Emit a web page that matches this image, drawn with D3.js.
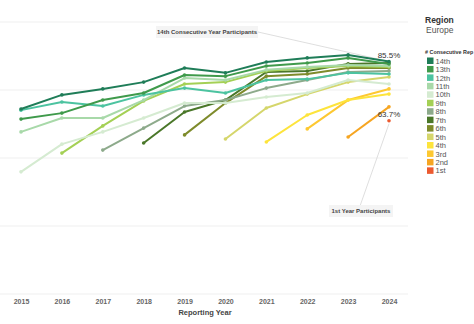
<!DOCTYPE html>
<html><head><meta charset="utf-8">
<script src="https://cdn.jsdelivr.net/npm/d3@7"></script>
<style>body{margin:0;background:#fff;}svg{display:block;font-family:Arial,"Liberation Sans",sans-serif;}</style>
</head><body>
<svg id="c" width="474" height="324"></svg>
<script>
const years = [2015,2016,2017,2018,2019,2020,2021,2022,2023,2024];
const yTicks = [0,25,50,75,100];
const seriesNames = ["14th","13th","12th","11th","10th","9th","8th","7th","6th","5th","4th","3rd","2nd","1st"];
const seriesColors = ["#1f7d58","#3f9a4b","#4cc3a0","#a8d9a9","#d5ebd1","#a4d055","#8daa8b","#4a7729","#7e8b2b","#d5d66b","#fde43c","#fdc831","#f6a521","#ec5a2f"];
const v14 = [68.0,73.2,75.4,77.9,83.1,81.3,85.3,86.8,87.9,85.5];
const v13 = [64.3,66.5,71.3,73.9,80.5,80.1,83.8,84.9,86.8,84.6];
const v12 = [67.6,70.6,69.1,73.2,75.7,73.9,78.7,79.0,81.3,80.9];
const v11 = [59.6,64.7,64.7,71.3,79.4,78.7,82.4,83.5,84.2,83.8];
const v10 = [44.9,55.1,59.6,64.7,70.2,70.2,72.4,73.9,78.7,77.2];
const v9  = [null,51.8,61.8,71.0,77.2,77.9,82.0,83.1,83.8,83.5];
const v8  = [null,null,52.9,61.0,69.1,71.3,75.7,78.7,81.6,82.0];
const v7  = [null,null,null,55.5,66.9,71.3,81.6,82.0,84.6,84.9];
const v6  = [null,null,null,null,58.5,70.2,80.1,80.9,83.1,83.1];
const v5  = [null,null,null,null,null,57.0,68.4,73.5,77.9,79.8];
const v4  = [null,null,null,null,null,null,55.9,65.8,71.3,73.5];
const v3  = [null,null,null,null,null,null,null,60.7,71.3,75.4];
const v2  = [null,null,null,null,null,null,null,null,57.7,68.8];
const v1  = [null,null,null,null,null,null,null,null,null,63.7];
const seriesValues = [v14,v13,v12,v11,v10,v9,v8,v7,v6,v5,v4,v3,v2,v1];

const svg = d3.select("#c");
const x = d3.scaleLinear().domain([2015,2024]).range([21,389]);
const y = d3.scaleLinear().domain([0,100]).range([294,22]);

// gridlines
svg.append("g").selectAll("line").data(yTicks).join("line")
  .attr("x1",0).attr("x2",408).attr("y1",d=>y(d)).attr("y2",d=>y(d))
  .attr("stroke","#efefef").attr("stroke-width",1);

// x axis
const xAxis = d3.axisBottom(x).tickValues(years).tickFormat(d3.format("d")).tickSize(0).tickPadding(0);
const gx = svg.append("g").attr("transform","translate(0,299)").call(xAxis);
gx.select(".domain").remove();
gx.selectAll("text").attr("font-size","7px").attr("fill","#666").attr("font-weight","bold").attr("dy","0.71em");
svg.append("text").attr("x",205).attr("y",315).attr("text-anchor","middle")
  .attr("font-size","7.5px").attr("font-weight","bold").attr("fill","#444").text("Reporting Year");

// annotation lines (behind)
svg.append("line").attr("x1",258).attr("y1",32).attr("x2",x(2024)).attr("y2",y(v14[9]))
  .attr("stroke","#d6d6d6").attr("stroke-width",0.8);
svg.append("line").attr("x1",x(2024)).attr("y1",y(v1[9])+3).attr("x2",360).attr("y2",206)
  .attr("stroke","#d6d6d6").attr("stroke-width",0.8);

// series, drawn with 14th on top
const line = d3.line().defined(d=>d.v!=null).x(d=>x(d.year)).y(d=>y(d.v));
const order = d3.range(seriesNames.length).reverse();
order.forEach(i=>{
  const pts = years.map((yr,j)=>({year:yr,v:seriesValues[i][j]}));
  const g = svg.append("g");
  g.append("path").datum(pts).attr("d",line).attr("fill","none")
    .attr("stroke",seriesColors[i]).attr("stroke-width",2).attr("stroke-linejoin","round");
  g.selectAll("circle").data(pts.filter(d=>d.v!=null)).join("circle")
    .attr("cx",d=>x(d.year)).attr("cy",d=>y(d.v)).attr("r",1.8).attr("fill",seriesColors[i]);
});

// value labels
svg.append("text").attr("x",x(2024)).attr("y",y(v14[9])-3).attr("text-anchor","middle")
  .attr("font-size","8px").attr("fill","#333").text(v14[9].toFixed(1)+"%");
svg.append("text").attr("x",x(2024)).attr("y",y(v1[9])-4).attr("text-anchor","middle")
  .attr("font-size","8px").attr("fill","#333").text(v1[9].toFixed(1)+"%");

// annotation boxes
function note(cx,cy,w,txt){
  svg.append("rect").attr("x",cx-w/2).attr("y",cy-6).attr("width",w).attr("height",12).attr("fill","#f4f4f4");
  svg.append("text").attr("x",cx).attr("y",cy+2.2).attr("text-anchor","middle")
    .attr("font-size","6px").attr("font-weight","bold").attr("fill","#444").text(txt);
}
note(207,32,102,"14th Consecutive Year Participants");
note(361,211,64,"1st Year Participants");

// legend
const lg = svg.append("g");
lg.append("text").attr("x",425).attr("y",23).attr("font-size","8.5px").attr("font-weight","bold").attr("fill","#333").text("Region");
lg.append("text").attr("x",426).attr("y",33).attr("font-size","8.5px").attr("fill","#555").text("Europe");
lg.append("text").attr("x",425).attr("y",54).attr("font-size","5.4px").attr("font-weight","bold").attr("fill","#333")
  .text("# Consecutive Rep");
seriesNames.forEach((n,i)=>{
  const yy = 61 + i*8.45;
  lg.append("rect").attr("x",427).attr("y",yy-3.5).attr("width",6.5).attr("height",6.5).attr("fill",seriesColors[i]);
  lg.append("text").attr("x",435.5).attr("y",yy+2.6).attr("font-size","7.5px").attr("fill","#555").text(n);
});
</script>
</body></html>
